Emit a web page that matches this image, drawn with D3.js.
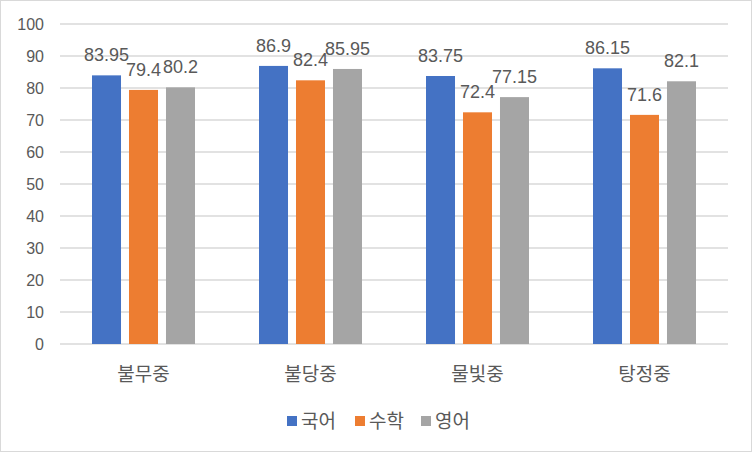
<!DOCTYPE html>
<html>
<head>
<meta charset="utf-8">
<script src="https://cdn.jsdelivr.net/npm/d3@7"></script>
<style>
  body { margin: 0; background: #fff; }
  text { font-family: "Noto Sans CJK KR", "Noto Sans", sans-serif; fill: #595959; }
</style>
</head>
<body>
<div id="wrapper"></div>
<script>
const schools = ["불무중", "불당중", "물빛중", "탕정중"];
const seriesNames = ["국어", "수학", "영어"];
const korean = [83.95, 86.9, 83.75, 86.15];
const math = [79.4, 82.4, 72.4, 71.6];
const english = [80.2, 85.95, 77.15, 82.1];
const yTicks = [0, 10, 20, 30, 40, 50, 60, 70, 80, 90, 100];
const colors = ["#4472C4", "#ED7D31", "#A5A5A5"];

const width = 752;
const height = 452;
const margin = { top: 24, right: 24, bottom: 108, left: 60 };

const seriesValues = [korean, math, english];
const dataset = schools.map((s, i) => ({
  school: s,
  values: seriesNames.map((n, j) => ({ name: n, value: seriesValues[j][i], color: colors[j] })),
}));

const svg = d3.select("#wrapper").append("svg")
  .attr("width", width)
  .attr("height", height);

// chart border
svg.append("rect")
  .attr("x", 0.5).attr("y", 0.5)
  .attr("width", width - 1).attr("height", height - 1)
  .attr("fill", "#fff")
  .attr("stroke", "#d9d9d9");

const xScale = d3.scaleBand()
  .domain(schools)
  .range([margin.left, width - margin.right]);

const inner = d3.scaleBand()
  .domain(seriesNames)
  .range([0, xScale.bandwidth()])
  .paddingInner(0.216)
  .paddingOuter(0.865);

const yScale = d3.scaleLinear()
  .domain([0, 100])
  .range([height - margin.bottom, margin.top]);

// gridlines
svg.append("g")
  .selectAll("line")
  .data(yTicks)
  .join("line")
  .attr("x1", margin.left)
  .attr("x2", width - margin.right)
  .attr("y1", (d) => yScale(d))
  .attr("y2", (d) => yScale(d))
  .attr("stroke", "#d9d9d9")
  .attr("stroke-width", 1.3);

// y axis labels
const yAxis = d3.axisLeft(yScale).tickValues(yTicks).tickSize(0).tickPadding(16);
const yg = svg.append("g")
  .attr("transform", `translate(${margin.left},0)`)
  .call(yAxis);
yg.select(".domain").remove();
yg.selectAll("text")
  .style("font-size", "16px")
  .style("font-family", "'Liberation Sans', 'Noto Sans', sans-serif")
  .attr("fill", "#595959");

// bars
const groups = svg.append("g")
  .selectAll("g")
  .data(dataset)
  .join("g")
  .attr("transform", (d) => `translate(${xScale(d.school)},0)`);

groups.selectAll("rect")
  .data((d) => d.values)
  .join("rect")
  .attr("x", (d) => inner(d.name))
  .attr("y", (d) => yScale(d.value))
  .attr("width", inner.bandwidth())
  .attr("height", (d) => yScale(0) - yScale(d.value))
  .attr("fill", (d) => d.color);

groups.selectAll("text.val")
  .data((d) => d.values)
  .join("text")
  .attr("class", "val")
  .attr("x", (d) => inner(d.name) + inner.bandwidth() / 2)
  .attr("y", (d) => yScale(d.value) - 14)
  .attr("text-anchor", "middle")
  .style("font-size", "18px")
  .style("font-family", "'Liberation Sans', 'Noto Sans', sans-serif")
  .text((d) => d.value);

// x axis labels
const xAxis = d3.axisBottom(xScale).tickSize(0).tickPadding(24);
const xg = svg.append("g")
  .attr("transform", `translate(0,${yScale(0)})`)
  .call(xAxis);
xg.select(".domain").remove();
xg.selectAll("text")
  .style("font-size", "19px")
  .style("font-family", "'Noto Sans CJK KR', sans-serif")
  .attr("fill", "#595959");

// legend
const legendX = [287, 355, 421];
const legend = svg.append("g")
  .selectAll("g")
  .data(seriesNames)
  .join("g")
  .attr("transform", (d, i) => `translate(${legendX[i]},421)`);

legend.append("rect")
  .attr("x", 0).attr("y", -5)
  .attr("width", 10).attr("height", 10)
  .attr("fill", (d, i) => colors[i]);

legend.append("text")
  .attr("x", 14)
  .attr("y", 0)
  .attr("dy", "0.35em")
  .style("font-size", "19px")
  .text((d) => d);
</script>
</body>
</html>
